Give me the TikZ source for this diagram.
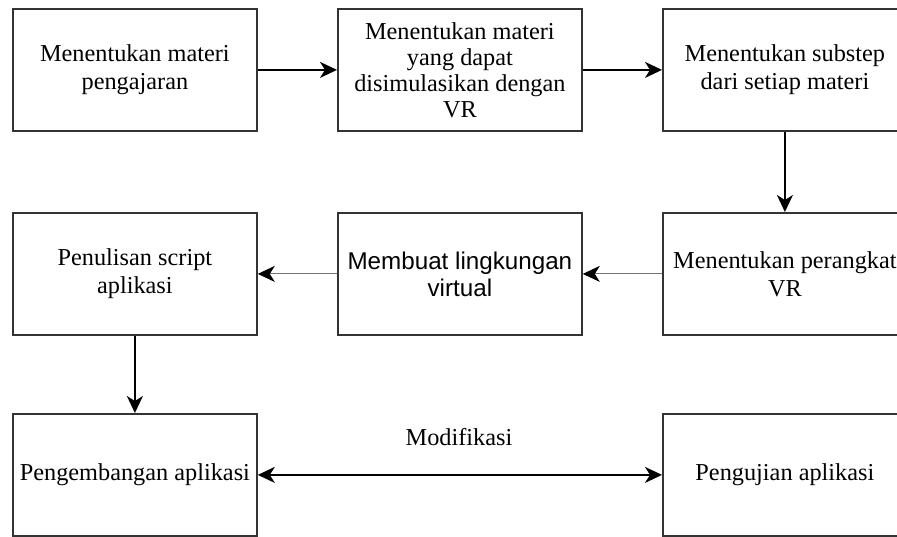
\documentclass[tikz,border=0pt]{standalone}
\usepackage{fontspec}
\setmainfont{Liberation Serif}
\newfontfamily\arialfont{Liberation Sans}
\usetikzlibrary{arrows.meta}
\begin{document}
\begin{tikzpicture}[x=1pt,y=-1pt,
  stepbox/.style={draw=black!80, line width=1.8pt, minimum width=244pt, minimum height=122pt,
    inner sep=0pt, align=center, font=\fontsize{24.3}{28}\selectfont, anchor=north west},
  tip/.style={-{Stealth[length=17pt,width=16pt,inset=5pt]}},
  flow/.style={line width=1.8pt, tip},
  thinflow/.style={draw=black!55, line width=0.9pt, -{Stealth[length=17pt,width=16pt,inset=5pt,color=black]}}
]
\useasboundingbox (0,0) rectangle (897,536);
\begin{scope}
\clip (0,0) rectangle (897,536);
% first row
\node[stepbox] (b1) at (12,8) {Menentukan materi\\pengajaran};
\node[stepbox, font=\fontsize{24.3}{26}\selectfont] (b2) at (337,8) {Menentukan materi\\yang dapat\\disimulasikan dengan\\VR};
\node[stepbox] (b3) at (662,8) {Menentukan substep\\dari setiap materi};
% second row
\node[stepbox] (b4) at (12,212) {Penulisan script\\aplikasi};
\node[stepbox, font=\arialfont\fontsize{24.2}{27}\selectfont] (b5) at (337,212) {Membuat lingkungan\\virtual};
\node[stepbox] (b6) at (662,212) {Menentukan perangkat\\VR};
% third row
\node[stepbox] (b7) at (12,413) {Pengembangan aplikasi};
\node[stepbox] (b8) at (662,413) {Pengujian aplikasi};
\end{scope}
% connectors
\draw[flow] (b1.east) -- (b2.west);
\draw[flow] (b2.east) -- (b3.west);
\draw[flow] (b3.south) -- (b6.north);
\draw[thinflow] (b6.west) -- (b5.east);
\draw[thinflow] (b5.west) -- (b4.east);
\draw[flow] (b4.south) -- (b7.north);
\draw[line width=1.8pt, {Stealth[length=17pt,width=16pt,inset=5pt]}-{Stealth[length=17pt,width=16pt,inset=5pt]}] (b7.east) -- (b8.west);
\node[font=\fontsize{24.3}{28}\selectfont] (mod) at (459,437) {Modifikasi};
\end{tikzpicture}
\end{document}
